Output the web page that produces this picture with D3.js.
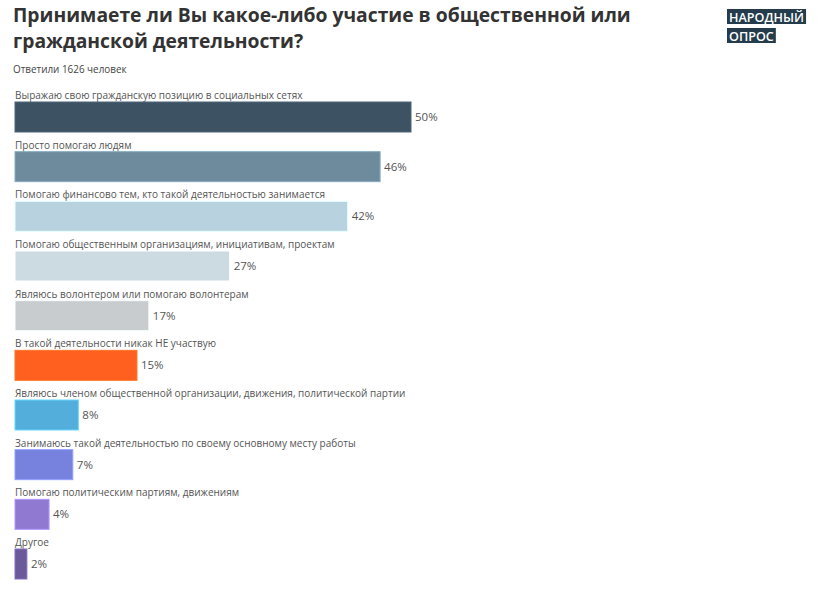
<!DOCTYPE html>
<html><head><meta charset="utf-8">
<script src="https://cdn.jsdelivr.net/npm/d3@7"></script>
<style>
body{margin:0;background:#fff;}
svg{display:block;font-family:"Open Sans",sans-serif;}
</style></head>
<body><svg id="c" width="825" height="591"></svg>
<script>
const categories = [
  "Выражаю свою гражданскую позицию в социальных сетях",
  "Просто помогаю людям",
  "Помогаю финансово тем, кто такой деятельностью занимается",
  "Помогаю общественным организациям, инициативам, проектам",
  "Являюсь волонтером или помогаю волонтерам",
  "В такой деятельности никак НЕ участвую",
  "Являюсь членом общественной организации, движения, политической партии",
  "Занимаюсь такой деятельностью по своему основному месту работы",
  "Помогаю политическим партиям, движениям",
  "Другое"
];
const values = [50, 46.1, 42.0, 27.1, 16.9, 15.4, 8.0, 7.3, 4.3, 1.5];
const colors = ["#3d5263","#6d8b9d","#b9d2e0","#ccdae1","#c8cccf","#ff5f1f","#53aedb","#7682dd","#9079d1","#6b5a9a"];
const title = ["Принимаете ли Вы какое-либо участие в общественной или", "гражданской деятельности?"];
const subtitle = "Ответили 1626 человек";
const logo = ["НАРОДНЫЙ", "ОПРОС"];

const svg = d3.select("#c");
const x = d3.scaleLinear().domain([0, 50]).range([15, 411]);
const y = d3.scaleBand().domain(categories).range([102, 579]).paddingInner(0.396).paddingOuter(0).align(0);

// title
svg.append("g").selectAll("text").data(title).join("text")
  .attr("x", 13).attr("y", (d,i)=>22+i*25.5)
  .attr("font-size", 19.3).attr("font-weight", 700).attr("fill", "#333")
  .text(d=>d);
svg.append("text").attr("x", 13).attr("y", 72.5).attr("font-size", 9.9).attr("fill", "#444").text(subtitle);

// logo
const lg = svg.append("g");
logo.forEach((t,i)=>{
  const tx = lg.append("text").attr("x", 729).attr("y", 21.5 + i*19).attr("font-size", 12.6).attr("font-weight", 600)
    .attr("fill", "#fff").text(t);
  const w = tx.node().getComputedTextLength();
  lg.insert("rect", "text").attr("x", 727).attr("y", 9 + i*19).attr("width", w + 4).attr("height", 15).attr("fill", "#243c4c");
});

const rows = svg.append("g").selectAll("g").data(categories).join("g");
rows.append("text").attr("x", 15).attr("y", d=>y(d)-3)
  .attr("font-size", 10).attr("fill", "#555").text(d=>d);
rows.append("rect")
  .attr("x", x(0)).attr("y", d=>y(d))
  .attr("width", (d,i)=>x(values[i]) - x(0)).attr("height", y.bandwidth())
  .attr("fill", (d,i)=>colors[i])
  .attr("stroke", (d,i)=>d3.color(colors[i]).brighter(0.6)).attr("stroke-width", 1);
rows.append("text")
  .attr("x", (d,i)=>x(values[i]) + 4).attr("y", d=>y(d) + y.bandwidth()/2 + 4)
  .attr("font-size", 11.5).attr("fill", "#555")
  .text((d,i)=>Math.round(values[i]) + "%");
</script></body></html>
